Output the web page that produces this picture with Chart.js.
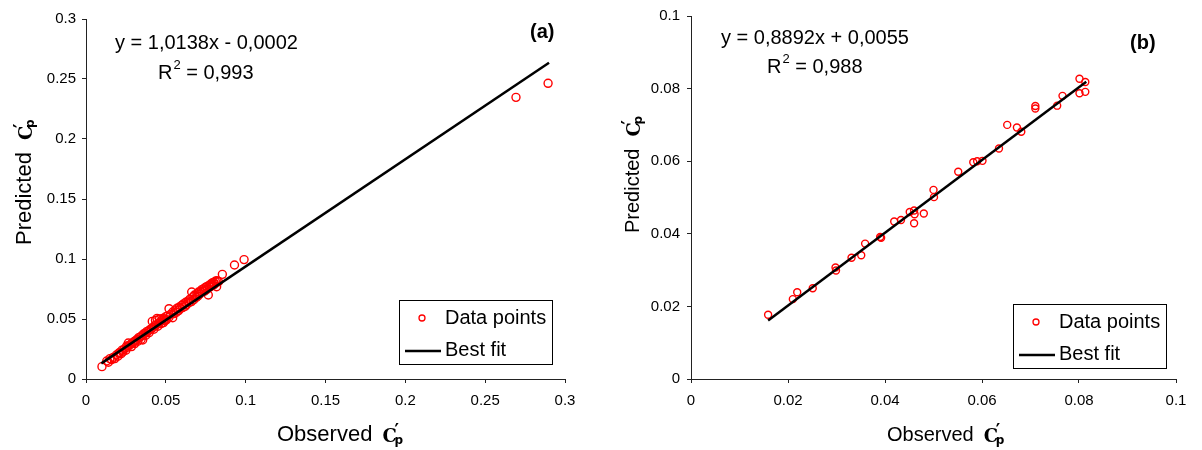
<!DOCTYPE html>
<html>
<head>
<meta charset="utf-8">
<script src="https://cdn.jsdelivr.net/npm/chart.js@4.4.1/dist/chart.umd.min.js"></script>
<style>
  html, body { margin: 0; padding: 0; background: #fff; }
  #wrap { position: relative; width: 1202px; height: 450px; }
  canvas { position: absolute; top: 0; }
</style>
</head>
<body>
<div id="wrap">
  <canvas id="chartA" width="600" height="450" style="left:0"></canvas>
  <canvas id="chartB" width="602" height="450" style="left:600px"></canvas>
</div>
<script>
// ---- panel (a) data ----
const observedA = [
  0.0100, 0.0130, 0.0140, 0.0150, 0.0160, 0.0170, 0.0180, 0.0190, 0.0200, 0.0205,
  0.0210, 0.0220, 0.0225, 0.0230, 0.0240, 0.0250, 0.0255, 0.0260, 0.0265, 0.0270,
  0.0280, 0.0285, 0.0290, 0.0300, 0.0305, 0.0310, 0.0320, 0.0325, 0.0330, 0.0340,
  0.0345, 0.0350, 0.0355, 0.0360, 0.0370, 0.0375, 0.0380, 0.0390, 0.0395, 0.0400,
  0.0410, 0.0415, 0.0420, 0.0425, 0.0430, 0.0435, 0.0440, 0.0445, 0.0450, 0.0455,
  0.0460, 0.0465, 0.0470, 0.0475, 0.0480, 0.0485, 0.0490, 0.0495, 0.0500, 0.0505,
  0.0510, 0.0520, 0.0520, 0.0530, 0.0543, 0.0545, 0.0550, 0.0560, 0.0565, 0.0570,
  0.0580, 0.0585, 0.0590, 0.0600, 0.0605, 0.0610, 0.0620, 0.0625, 0.0630, 0.0640,
  0.0645, 0.0650, 0.0660, 0.0662, 0.0670, 0.0675, 0.0680, 0.0690, 0.0695, 0.0700,
  0.0705, 0.0710, 0.0720, 0.0725, 0.0735, 0.0740, 0.0745, 0.0750, 0.0755, 0.0760,
  0.0766, 0.0770, 0.0775, 0.0780, 0.0785, 0.0790, 0.0795, 0.0800, 0.0805, 0.0810,
  0.0818, 0.0820, 0.0830, 0.0854, 0.0930, 0.0990, 0.2693, 0.2894
];
const predictedA = [
  0.0103, 0.0150, 0.0140, 0.0170, 0.0160, 0.0180, 0.0170, 0.0200, 0.0190, 0.0215,
  0.0220, 0.0210, 0.0240, 0.0225, 0.0250, 0.0240, 0.0275, 0.0265, 0.0300, 0.0280,
  0.0290, 0.0270, 0.0300, 0.0310, 0.0295, 0.0320, 0.0330, 0.0315, 0.0345, 0.0350,
  0.0330, 0.0360, 0.0325, 0.0375, 0.0380, 0.0365, 0.0395, 0.0400, 0.0385, 0.0410,
  0.0420, 0.0480, 0.0430, 0.0415, 0.0445, 0.0490, 0.0450, 0.0505, 0.0440, 0.0465,
  0.0500, 0.0475, 0.0460, 0.0490, 0.0505, 0.0470, 0.0500, 0.0485, 0.0520, 0.0495,
  0.0525, 0.0515, 0.0586, 0.0540, 0.0511, 0.0560, 0.0545, 0.0575, 0.0555, 0.0590,
  0.0570, 0.0600, 0.0585, 0.0615, 0.0595, 0.0625, 0.0605, 0.0640, 0.0620, 0.0650,
  0.0635, 0.0665, 0.0645, 0.0725, 0.0685, 0.0660, 0.0700, 0.0680, 0.0710, 0.0690,
  0.0725, 0.0705, 0.0730, 0.0745, 0.0750, 0.0730, 0.0760, 0.0740, 0.0770, 0.0750,
  0.0700, 0.0780, 0.0765, 0.0790, 0.0775, 0.0800, 0.0780, 0.0805, 0.0790, 0.0815,
  0.0769, 0.0820, 0.0810, 0.0872, 0.0950, 0.0995, 0.2347, 0.2464
];
const fitXA = [0.0096, 0.2900];
const fitYA = [0.0130, 0.2636];
const ticksA = [0, 0.05, 0.1, 0.15, 0.2, 0.25, 0.3];
const equationA = 'y = 1,0138x - 0,0002';
const r2A = '0,993';

// ---- panel (b) data ----
const observedB = [
  0.0159, 0.0210, 0.0219, 0.0251, 0.0298, 0.0299, 0.0331, 0.0351, 0.0359, 0.0390,
  0.0392, 0.0419, 0.0433, 0.0451, 0.0460, 0.0461, 0.0460, 0.0480, 0.0500, 0.0501,
  0.0551, 0.0582, 0.0590, 0.0601, 0.0635, 0.0652, 0.0672, 0.0681, 0.0710, 0.0710,
  0.0755, 0.0766, 0.0801, 0.0801, 0.0813, 0.0813
];
const predictedB = [
  0.0177, 0.0220, 0.0239, 0.0250, 0.0307, 0.0299, 0.0334, 0.0341, 0.0373, 0.0391,
  0.0389, 0.0434, 0.0438, 0.0460, 0.0464, 0.0454, 0.0429, 0.0456, 0.0521, 0.0501,
  0.0571, 0.0597, 0.0600, 0.0601, 0.0635, 0.0700, 0.0693, 0.0681, 0.0752, 0.0745,
  0.0753, 0.0780, 0.0827, 0.0787, 0.0818, 0.0791
];
const fitXB = [0.0159, 0.0815];
const fitYB = [0.0161, 0.0819];
const ticksB = [0, 0.02, 0.04, 0.06, 0.08, 0.1];
const equationB = 'y = 0,8892x + 0,0055';
const r2B = '0,988';

const legendLabels = ['Data points', 'Best fit'];
const FONT = "'Liberation Sans', Arial, sans-serif";

function toPoints(xs, ys) {
  return xs.map((x, i) => ({ x: x, y: ys[i] }));
}

// bold C with prime and subscript p
function drawSymbol(ctx, x, y) {
  ctx.save();
  ctx.textAlign = 'left';
  ctx.textBaseline = 'alphabetic';
  ctx.font = "bold 18px 'DejaVu Serif'";
  ctx.fillText('C', x, y + 6.5);
  ctx.font = "bold 17px 'DejaVu Sans'";
  ctx.fillText('\u2032', x + 12, y + 1);
  ctx.font = "bold 12px 'DejaVu Sans'";
  ctx.fillText('p', x + 12, y + 9);
  ctx.restore();
}

function overlayPlugin(o) {
  return {
    id: 'overlay',
    afterDraw(chart) {
      const ctx = chart.ctx;
      ctx.save();
      ctx.fillStyle = '#000';
      ctx.textBaseline = 'middle';
      ctx.textAlign = 'left';

      // equation + R2
      ctx.font = '20px ' + FONT;
      ctx.fillText(o.equation, o.eqX, o.eqY);
      ctx.fillText('R', o.r2X, o.r2Y);
      let rx = o.r2X + ctx.measureText('R').width + 1;
      ctx.font = '13px ' + FONT;
      ctx.fillText('2', rx, o.r2Y - 8);
      rx += ctx.measureText('2').width;
      ctx.font = '20px ' + FONT;
      ctx.fillText(' = ' + o.r2, rx, o.r2Y);

      // panel label
      ctx.font = 'bold 20px ' + FONT;
      ctx.fillText(o.panel, o.panelX, o.panelY);

      // x title
      ctx.font = o.titleSize + 'px ' + FONT;
      ctx.fillText('Observed', o.xTitleX, o.xTitleY);
      drawSymbol(ctx, o.xTitleX + ctx.measureText('Observed').width + 10, o.xTitleY);

      // y title (rotated)
      ctx.save();
      ctx.translate(o.yTitleX, o.yTitleY);
      ctx.rotate(-Math.PI / 2);
      ctx.font = o.titleSize + 'px ' + FONT;
      ctx.fillText('Predicted', 0, 0);
      drawSymbol(ctx, ctx.measureText('Predicted').width + 12, 0);
      ctx.restore();

      // legend box
      const b = o.legend;
      ctx.strokeStyle = '#000';
      ctx.lineWidth = 1;
      ctx.strokeRect(b.x + 0.5, b.y + 0.5, b.w, b.h);
      ctx.beginPath();
      ctx.arc(b.x + 23, b.y + 18, 3, 0, Math.PI * 2);
      ctx.strokeStyle = '#ff0000';
      ctx.lineWidth = 1.3;
      ctx.stroke();
      ctx.beginPath();
      ctx.moveTo(b.x + 6, b.y + 51);
      ctx.lineTo(b.x + 42, b.y + 51);
      ctx.strokeStyle = '#000';
      ctx.lineWidth = 2.5;
      ctx.stroke();
      ctx.font = '20px ' + FONT;
      ctx.fillText(legendLabels[0], b.x + 46, b.y + 18);
      ctx.fillText(legendLabels[1], b.x + 46, b.y + 50);
      ctx.restore();
    }
  };
}

function makeChart(id, d) {
  const axis = (tickVals, max, extra) => Object.assign({
    type: 'linear',
    min: 0,
    max: max,
    afterBuildTicks: s => { s.ticks = tickVals.map(v => ({ value: v })); },
    ticks: {
      color: '#000',
      font: { family: FONT, size: 15 },
      callback: v => String(+v.toFixed(4))
    },
    grid: { drawOnChartArea: false, tickLength: 4, color: '#222' },
    border: { color: '#222', width: 1 }
  }, extra);

  return new Chart(document.getElementById(id), {
    type: 'scatter',
    data: {
      datasets: [
        {
          label: legendLabels[0],
          data: toPoints(d.xs, d.ys),
          showLine: false,
          pointStyle: 'circle',
          pointRadius: d.radius,
          pointBorderWidth: 1.4,
          pointBackgroundColor: 'rgba(0,0,0,0)',
          pointBorderColor: '#ff0000',
          order: 1
        },
        {
          label: legendLabels[1],
          data: toPoints(d.fitX, d.fitY),
          showLine: true,
          borderColor: '#000',
          borderWidth: 2.5,
          pointRadius: 0,
          order: 0
        }
      ]
    },
    options: {
      responsive: false,
      animation: false,
      layout: { padding: { top: d.padTop, right: d.padRight, left: 0, bottom: 0 } },
      plugins: { legend: { display: false }, tooltip: { enabled: false } },
      scales: {
        x: axis(d.ticks, d.max, { afterFit: s => { s.height = 71; } }),
        y: axis(d.ticks, d.max, { afterFit: s => { s.width = d.yWidth; } })
      }
    },
    plugins: [overlayPlugin(d.overlay)]
  });
}

// tick label padding differs a little per panel
const chartA = makeChart('chartA', {
  xs: observedA, ys: predictedA, fitX: fitXA, fitY: fitYA, ticks: ticksA, max: 0.3,
  radius: 4, padTop: 19, padRight: 35, yWidth: 86,
  overlay: {
    equation: equationA, eqX: 115, eqY: 43, r2: r2A, r2X: 158, r2Y: 73,
    panel: '(a)', panelX: 530, panelY: 32, titleSize: 22,
    xTitleX: 277, xTitleY: 435, yTitleX: 25, yTitleY: 245,
    legend: { x: 399, y: 300, w: 153, h: 64 }
  }
});
chartA.options.scales.x.ticks.padding = 9;
chartA.options.scales.y.ticks.padding = 6;
chartA.update();

const chartB = makeChart('chartB', {
  xs: observedB, ys: predictedB, fitX: fitXB, fitY: fitYB, ticks: ticksB, max: 0.1,
  radius: 3.5, padTop: 16, padRight: 26, yWidth: 91,
  overlay: {
    equation: equationB, eqX: 121, eqY: 38, r2: r2B, r2X: 167, r2Y: 67,
    panel: '(b)', panelX: 530, panelY: 43, titleSize: 20,
    xTitleX: 287, xTitleY: 435, yTitleX: 33, yTitleY: 233,
    legend: { x: 413, y: 304, w: 153, h: 64 }
  }
});
chartB.options.scales.x.ticks.padding = 9;
chartB.options.scales.y.ticks.padding = 7;
chartB.update();
</script>
</body>
</html>
